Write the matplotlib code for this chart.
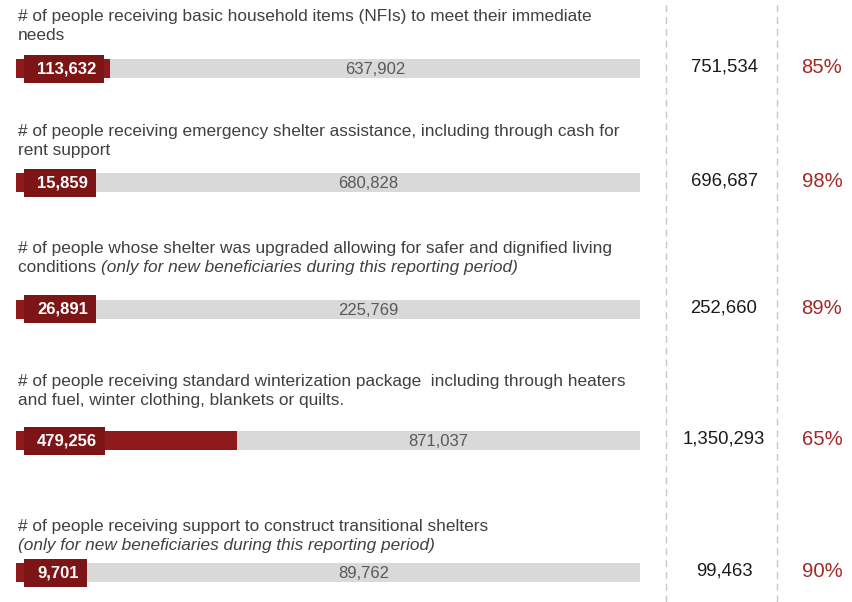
import matplotlib
matplotlib.use("Agg")
import matplotlib.pyplot as plt
from matplotlib.patches import Rectangle

# ---- data ----
line1 = [
    "# of people receiving basic household items (NFIs) to meet their immediate",
    "# of people receiving emergency shelter assistance, including through cash for",
    "# of people whose shelter was upgraded allowing for safer and dignified living",
    "# of people receiving standard winterization package  including through heaters",
    "# of people receiving support to construct transitional shelters",
]
line2_plain = ["needs", "rent support", "conditions ", "and fuel, winter clothing, blankets or quilts.", ""]
line2_italic = ["", "", "(only for new beneficiaries during this reporting period)", "",
                "(only for new beneficiaries during this reporting period)"]
achieved = [113632, 15859, 26891, 479256, 9701]
gap = [637902, 680828, 225769, 871037, 89762]
total = [751534, 696687, 252660, 1350293, 99463]

# ---- layout (pixels from top) ----
W, H = 852, 602
bar_y = [68.5, 182.5, 309, 440.5, 572.5]
desc_base = [21.5, 136, 253, 386, 531]
line_step = 19
bar_x0, bar_x1 = 16, 640

RED = "#8f1a1c"
RED_BOX = "#7d1416"
GREY = "#d9d9d9"
PCT_RED = "#a32a2a"
FONT = "Liberation Sans"
DESC_FS = 12.4

fig = plt.figure(figsize=(W / 100, H / 100), dpi=100)
ax = fig.add_axes([bar_x0 / W, 0, (bar_x1 - bar_x0) / W, 1])
ax.set_xlim(0, 1)
ax.set_ylim(H, 0)
ax.axis("off")

ax2 = fig.add_axes([0, 0, 1, 1])
ax2.set_xlim(0, W)
ax2.set_ylim(H, 0)
ax2.axis("off")
ax2.patch.set_alpha(0)

frac_a = [a / t for a, t in zip(achieved, total)]
frac_g = [g / t for g, t in zip(gap, total)]

ax.barh(bar_y, frac_a, height=19, color=RED, zorder=2)
ax.barh(bar_y, frac_g, left=frac_a, height=19, color=GREY, zorder=1)

# dashed separators
for xv in (666, 777):
    ax2.axvline(xv, color="#c8c8c8", lw=1.0, ls=(0, (5, 3.5)), zorder=0)

# descriptions
for i in range(len(line1)):
    ax2.text(18, desc_base[i], line1[i], fontsize=DESC_FS, family=FONT, color="#404040",
             va="baseline", ha="left")
    y2 = desc_base[i] + line_step
    if line2_plain[i]:
        t = ax2.text(18, y2, line2_plain[i], fontsize=DESC_FS, family=FONT, color="#404040",
                     va="baseline", ha="left")
        if line2_italic[i]:
            ax2.annotate(line2_italic[i], xy=(1, 0), xycoords=t, va="bottom", ha="left",
                         fontsize=DESC_FS, family=FONT, color="#404040", style="italic")
    elif line2_italic[i]:
        ax2.text(18, y2, line2_italic[i], fontsize=DESC_FS, family=FONT, color="#404040",
                 va="baseline", ha="left", style="italic")

# achieved labels with boxes
labels = []
for i, a in enumerate(achieved):
    t = ax2.text(37, bar_y[i], f"{a:,}", fontsize=12, family=FONT, fontweight="bold",
                 color="white", va="center", ha="left", zorder=5)
    labels.append(t)

fig.canvas.draw()
renderer = fig.canvas.get_renderer()
inv = ax2.transData.inverted()
box_end = []
for i, t in enumerate(labels):
    bb = t.get_window_extent(renderer)
    (x0, _), (x1, _) = inv.transform([(bb.x0, bb.y0), (bb.x1, bb.y1)])
    left = x0 - 13
    right = x1 + 8
    ax2.add_patch(Rectangle((left, bar_y[i] - 14), right - left, 28, color=RED_BOX, zorder=4, lw=0))
    box_end.append((right - bar_x0) / (bar_x1 - bar_x0))

# gap values
for i, g in enumerate(gap):
    start = max(frac_a[i], box_end[i])
    ax.text((start + 1) / 2, bar_y[i] + 1.5, f"{g:,}", fontsize=12, family=FONT,
            color="#595959", va="center", ha="center", zorder=3)

# totals and percentages
for i, t in enumerate(total):
    ax2.text(724, bar_y[i] - 1, f"{t:,}", fontsize=13.3, family=FONT, color="#1a1a1a",
             va="center", ha="center")
    ax2.text(822, bar_y[i] - 1, f"{round(100 * gap[i] / t)}%", fontsize=14.6, family=FONT,
             color=PCT_RED, va="center", ha="center")

fig.savefig("out.png", dpi=100)
